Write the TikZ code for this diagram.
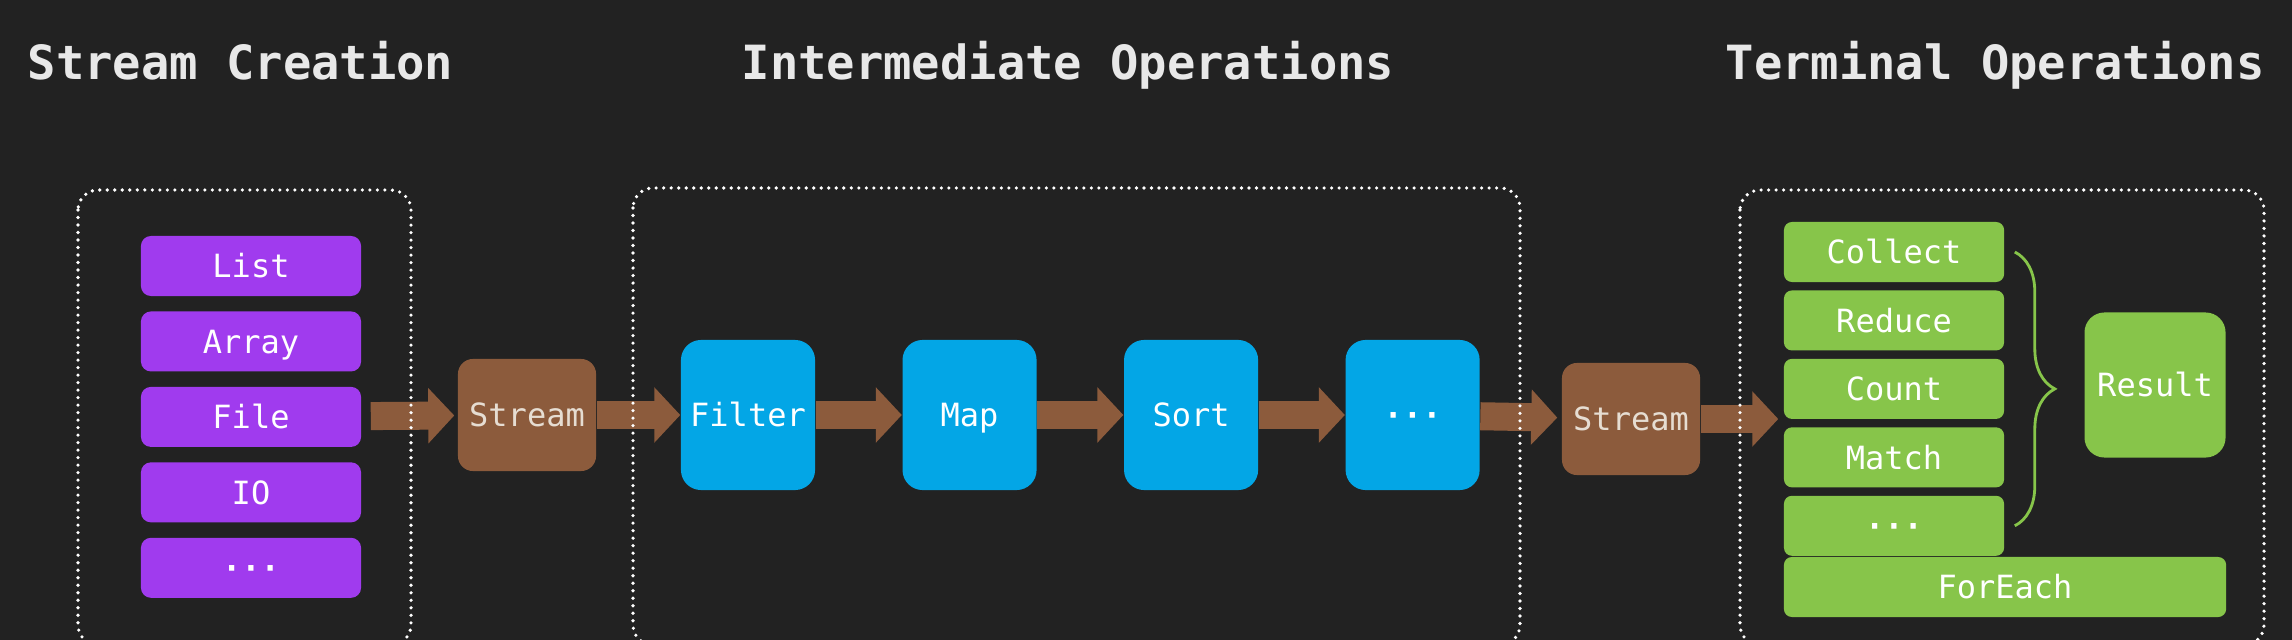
\documentclass[tikz,border=0pt]{standalone}
\usepackage{fontspec}
\setmonofont{DejaVu Sans Mono}
\usepackage{tikz}
\usetikzlibrary{arrows.meta,positioning,decorations.pathreplacing}
\definecolor{SlideBg}{HTML}{222222}
\definecolor{SourcePurple}{HTML}{A03BEE}
\definecolor{OpBlue}{HTML}{03A6E6}
\definecolor{PipeBrown}{HTML}{8C5B3C}
\definecolor{TermGreen}{HTML}{87C54A}
\definecolor{TitleGrey}{HTML}{E8E8E8}
\definecolor{PipeText}{HTML}{E6DDD2}

\begin{document}
\begin{tikzpicture}[
    x=0.01cm,y=-0.01cm,
    font=\ttfamily\fontsize{9.1pt}{11pt}\selectfont,
    title/.style={anchor=base west,inner sep=0pt,text=TitleGrey,
      font=\ttfamily\bfseries\fontsize{13.4pt}{16pt}\selectfont},
    group/.style={draw=white,line width=0.036cm,dash pattern=on 0pt off 0.075cm,
      line cap=round,rounded corners=0.2cm},
    card/.style={inner sep=0pt,text height=0.235cm,text depth=0pt,align=center},
    src/.style={card,fill=SourcePurple,rounded corners=0.1cm,
      minimum width=2.2cm,minimum height=0.6cm,text=white},
    pipe/.style={card,fill=PipeBrown,rounded corners=0.15cm,
      minimum width=1.38cm,minimum height=1.12cm,text=PipeText},
    op/.style={card,fill=OpBlue,rounded corners=0.2cm,
      minimum width=1.34cm,minimum height=1.5cm,text=white},
    term/.style={card,fill=TermGreen,rounded corners=0.08cm,
      minimum width=2.2cm,minimum height=0.6cm,text=white},
    flow/.style={-{Triangle[length=0.26cm,width=0.54cm]},line width=0.28cm,draw=PipeBrown},
    brace/.style={decorate,decoration={brace,amplitude=0.4cm},draw=TermGreen,line width=0.8pt}
  ]
    \fill[SlideBg] (0,0) rectangle (2292,640);
    \useasboundingbox (0,0) rectangle (2292,640);
    \clip (0,0) rectangle (2292,640);

    % headings
    \node[title] (tcreate) at (27,80) {Stream Creation};
    \node[title] (tinter) at (741,80) {Intermediate Operations};
    \node[title] (tterm) at (1725,80) {Terminal Operations};

    % sources
    \node[src] (list) at (251,266) {List};
    \node[src,below=0.14cm of list] (array) {Array};
    \node[src,below=0.14cm of array] (file) {File};
    \node[src,below=0.14cm of file] (io) {IO};
    \node[src,below=0.14cm of io] (srcdots) {\bfseries ···};

    % pipeline
    \node[pipe] (s1) at (527,415) {Stream};
    \node[op] (filter) at (748,415) {Filter};
    \node[op,right=0.86cm of filter] (map) {Map};
    \node[op,right=0.86cm of map] (sort) {Sort};
    \node[op,right=0.86cm of sort] (opdots) {\bfseries ···};
    \node[pipe] (s2) at (1631,419) {Stream};

    % terminal ops
    \node[term] (collect) at (1894,252) {Collect};
    \node[term,below=0.07cm of collect] (reduce) {Reduce};
    \node[term,below=0.07cm of reduce] (count) {Count};
    \node[term,below=0.07cm of count] (match) {Match};
    \node[term,below=0.07cm of match] (termdots) {\bfseries ···};
    \node[term,minimum width=4.42cm] (foreach) at (2005,587) {ForEach};
    \node[term,rounded corners=0.2cm,minimum width=1.41cm,minimum height=1.45cm]
      (result) at (2155,385) {Result};

    \draw[flow,shorten <=0.09cm,shorten >=0.03cm] (file) -- (s1);
    \draw[flow] (s1) -- (filter);
    \draw[flow] (filter) -- (map);
    \draw[flow] (map) -- (sort);
    \draw[flow] (sort) -- (opdots);
    \draw[flow,shorten >=0.04cm] (opdots) -- (s2);
    \draw[flow,shorten >=0.05cm] (s2) -- (s2 -| collect.west);
    \draw[brace] ([xshift=0.1cm]collect.east) -- ([xshift=0.1cm]termdots.east);

    % stage frames
    \draw[group] (78,190) rectangle (411,645);
    \draw[group] (633,188) rectangle (1520,645);
    \draw[group] (1740,190) rectangle (2264,645);
  \end{tikzpicture}
\end{document}
